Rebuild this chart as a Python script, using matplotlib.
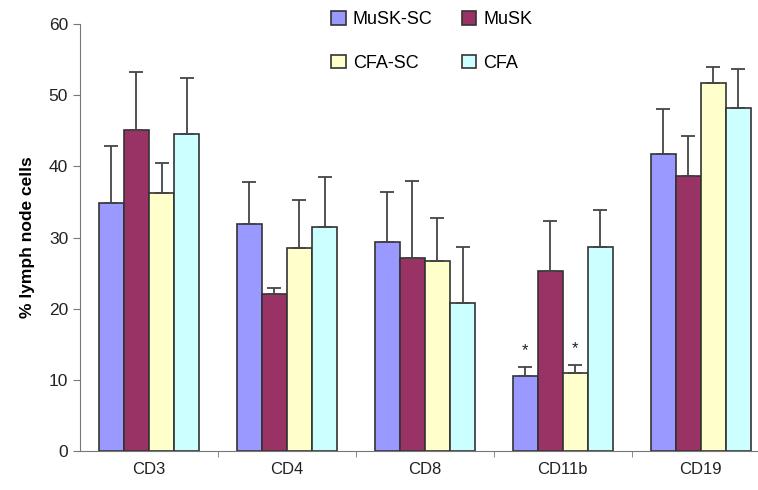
import numpy as np
import matplotlib
matplotlib.use("Agg")
import matplotlib.pyplot as plt

plt.rcParams['font.family'] = ['Liberation Sans', 'DejaVu Sans']

categories = ['CD3', 'CD4', 'CD8', 'CD11b', 'CD19']
series = ['MuSK-SC', 'MuSK', 'CFA-SC', 'CFA']
colors = ['#9999ff', '#993366', '#ffffcc', '#ccffff']

means = {
    'MuSK-SC': [34.9, 31.85, 29.3, 10.6, 41.8],
    'MuSK':    [45.1, 22.0, 27.1, 25.3, 38.7],
    'CFA-SC':  [36.2, 28.5, 26.7, 10.9, 51.75],
    'CFA':     [44.5, 31.5, 20.75, 28.6, 48.2],
}
errs = {
    'MuSK-SC': [7.9, 5.95, 7.1, 1.2, 6.2],
    'MuSK':    [8.1, 0.9, 10.8, 7.0, 5.6],
    'CFA-SC':  [4.2, 6.8, 6.0, 1.2, 2.25],
    'CFA':     [7.9, 7.0, 7.85, 5.3, 5.5],
}
# significance stars (series, category index)
stars = [('MuSK-SC', 3), ('CFA-SC', 3)]

fig = plt.figure(figsize=(7.58, 4.9), dpi=100)
ax = fig.add_axes([0.1055, 0.0796, 0.910, 0.8714])

x = np.arange(len(categories))
w = 0.182
offs = (np.arange(len(series)) - 1.5) * w

handles = {}
for i, s in enumerate(series):
    b = ax.bar(x + offs[i], means[s], w, color=colors[i], edgecolor='#333333',
               linewidth=1.2, label=s, zorder=2)
    ax.errorbar(x + offs[i], means[s], yerr=[np.zeros(len(x)), errs[s]],
                fmt='none', ecolor='#444444', elinewidth=1.3, capsize=5,
                capthick=1.3, zorder=3)
    handles[s] = b

for s, ci in stars:
    i = series.index(s)
    ax.text(x[ci] + offs[i], means[s][ci] + errs[s][ci] + 1.3, '*',
            ha='center', va='bottom', fontsize=12, color='#222222')

ax.set_xlim(-0.5, len(categories) - 0.5)
ax.set_ylim(0, 60)
ax.set_yticks(range(0, 61, 10))
ax.set_xticks(x)
ax.set_xticklabels(categories)
ax.set_xticks(np.arange(0.5, len(categories) - 0.5, 1), minor=True)
ax.tick_params(axis='x', which='major', length=0, pad=8, labelsize=12, colors='#222222')
ax.tick_params(axis='x', which='minor', length=4, color='#777777', direction='out')
ax.tick_params(axis='y', length=5, labelsize=12.5, colors='#222222')
ax.tick_params(axis='y', color='#777777')
for sp in ['top', 'right']:
    ax.spines[sp].set_visible(False)
ax.spines['left'].set_color('#777777')
ax.spines['bottom'].set_color('#777777')
ax.set_ylabel('% lymph node cells', fontsize=12.5, fontweight='bold', labelpad=10)

order = ['MuSK-SC', 'CFA-SC', 'MuSK', 'CFA']
ax.legend([handles[s] for s in order], order, ncol=2, frameon=False,
          loc='upper center', bbox_to_anchor=(0.51, 1.068), fontsize=13,
          handlelength=0.8, handleheight=0.8, columnspacing=1.6,
          labelspacing=1.45, handletextpad=0.4)

fig.savefig('out.png', dpi=100)
